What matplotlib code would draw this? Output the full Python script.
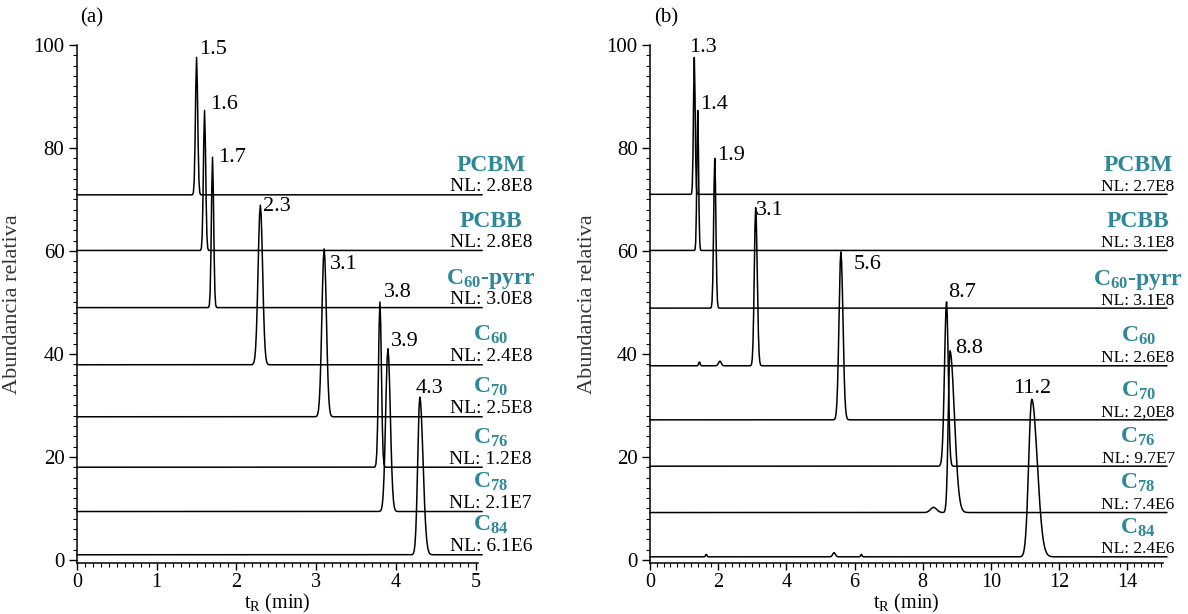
import numpy as np
import matplotlib
matplotlib.use("Agg")
import matplotlib.pyplot as plt
from matplotlib.ticker import MultipleLocator

plt.rcParams["font.family"] = ["Liberation Serif", "DejaVu Serif"]
plt.rcParams["mathtext.fontset"] = "custom"
plt.rcParams["mathtext.rm"] = "Liberation Serif"
plt.rcParams["mathtext.it"] = "Liberation Serif:italic"
plt.rcParams["mathtext.bf"] = "Liberation Serif:bold"

# ---------------------------------------------------------------- data
compound_labels = ["PCBM", "PCBB", r"C$_{\mathbf{60}}$-pyrr", r"C$_{\mathbf{60}}$",
                   r"C$_{\mathbf{70}}$", r"C$_{\mathbf{76}}$", r"C$_{\mathbf{78}}$",
                   r"C$_{\mathbf{84}}$"]

# panel (a)
baseline_a = [70.9, 60.1, 49.0, 37.9, 27.8, 18.0, 9.4, 1.0]
rt_a = [1.5, 1.6, 1.7, 2.3, 3.1, 3.8, 3.9, 4.3]
top_a = [97.6, 87.3, 78.2, 68.9, 60.4, 50.1, 41.0, 31.6]
sigma_left_a = [0.014, 0.014, 0.014, 0.028, 0.028, 0.018, 0.028, 0.026]
sigma_right_a = [0.014, 0.014, 0.014, 0.028, 0.028, 0.018, 0.030, 0.040]
nl_a = ["2.8E8", "2.8E8", "3.0E8", "2.4E8", "2.5E8", "1.2E8", "2.1E7", "6.1E6"]

# panel (b)
baseline_b = [71.0, 60.1, 48.9, 37.7, 27.2, 18.2, 9.2, 0.6]
rt_b = [1.3, 1.4, 1.9, 3.1, 5.6, 8.7, 8.8, 11.2]
top_b = [97.6, 87.3, 78.0, 68.4, 59.8, 50.1, 40.6, 31.2]
sigma_left_b = [0.025, 0.025, 0.032, 0.040, 0.055, 0.060, 0.050, 0.090]
sigma_right_b = [0.025, 0.025, 0.032, 0.045, 0.060, 0.050, 0.130, 0.160]
nl_b = ["2.7E8", "3.1E8", "3.1E8", "2.6E8", "2,0E8", "9.7E7", "7.4E6", "2.4E6"]
# small secondary features: (trace index, retention time, height, width)
minor_b = [(3, 1.45, 0.8, 0.02), (3, 2.05, 0.9, 0.04), (6, 8.32, 1.0, 0.09),
           (7, 1.65, 0.5, 0.02), (7, 5.40, 0.8, 0.04), (7, 6.20, 0.5, 0.02)]

# label offsets (points) for the retention-time annotations
offs_a = [(2, 6), (4, 4), (4, 0), (2, -1), (4, -11), (3, 7), (2, 5), (-3, 6)]
offs_b = [(-4, 7), (2, 4), (2, 2), (0, -2), (9, -9), (1, 7), (4, 2), (0, 8)]

TEAL = "#2e889a"


def trace(x, base, rt, top, sl, sr, extra=()):
    s = np.where(x < rt, sl, sr)
    y = base + (top - base) * np.exp(-0.5 * ((x - rt) / s) ** 2)
    for (r, h, w) in extra:
        y = y + h * np.exp(-0.5 * ((x - r) / w) ** 2)
    return y


def style_axes(ax, xmax, xmajor, xminor, letter):
    ax.set_xlim(0, xmax)
    ax.set_ylim(-0.6, 100)
    for side in ("top", "right"):
        ax.spines[side].set_visible(False)
    for side in ("left", "bottom"):
        ax.spines[side].set_linewidth(1.1)
    ax.yaxis.set_major_locator(MultipleLocator(20))
    ax.yaxis.set_minor_locator(MultipleLocator(2))
    ax.xaxis.set_major_locator(MultipleLocator(xmajor))
    ax.xaxis.set_minor_locator(MultipleLocator(xminor))
    ax.tick_params(which="major", direction="out", length=6, width=1.0,
                   labelsize=15, pad=3)
    ax.tick_params(axis="x", which="major", length=5, pad=2, labelsize=14.5)
    ax.tick_params(which="minor", direction="out", length=3, width=0.8)
    ax.set_ylabel("Abundancia relativa", fontsize=16, color="#333333")
    ax.set_xlabel(r"t$_{\mathrm{R}}$ (min)", fontsize=14.5)
    ax.text(0.008, 1.052, letter, transform=ax.transAxes, fontsize=15,
            ha="left", va="center")


def draw_panel(ax, x, bases, rts, tops, sls, srs, nls, offs, minor, label_x,
               nl_size, centered_last):
    for i in range(len(bases)):
        extra = [(r, h, w) for (k, r, h, w) in minor if k == i]
        y = trace(x, bases[i], rts[i], tops[i], sls[i], srs[i], extra)
        ax.plot(x, y, color="black", lw=1.1, clip_on=False, zorder=3)
        dx, dy = offs[i]
        ha = "center" if (centered_last and i == len(bases) - 1) else "left"
        ax.annotate(f"{rts[i]:.1f}", xy=(rts[i], tops[i]), xytext=(dx, dy),
                    textcoords="offset points", ha=ha, va="center",
                    fontsize=16, annotation_clip=False)
        ax.annotate(f"NL: {nls[i]}", xy=(label_x, bases[i]), xytext=(0, 2.5),
                    textcoords="offset points", ha="center", va="baseline",
                    fontsize=nl_size, annotation_clip=False, zorder=4)
        ax.annotate(compound_labels[i], xy=(label_x, bases[i]), xytext=(0, 17),
                    textcoords="offset points", ha="center", va="baseline",
                    fontsize=17, fontweight="bold", color=TEAL,
                    annotation_clip=False, zorder=4)


fig = plt.figure(figsize=(11.88, 6.14), dpi=100)
ax_a = fig.add_axes([77 / 1188, 1 - 563 / 614, 401 / 1188, 518 / 614])
ax_b = fig.add_axes([650 / 1188, 1 - 563 / 614, 513 / 1188, 518 / 614])

style_axes(ax_a, 5.03, 1, 0.1, "(a)")
style_axes(ax_b, 15.05, 2, 0.2, "(b)")

x_a = np.union1d(np.round(np.arange(0, 5.085, 0.01), 3), rt_a)
x_b = np.union1d(np.round(np.arange(0, 15.17, 0.02), 3), rt_b)

draw_panel(ax_a, x_a, baseline_a, rt_a, top_a, sigma_left_a, sigma_right_a,
           nl_a, offs_a, [], 5.19, 14, False)
draw_panel(ax_b, x_b, baseline_b, rt_b, top_b, sigma_left_b, sigma_right_b,
           nl_b, offs_b, minor_b, 14.32, 12.5, True)

for ax, lx in ((ax_a, (77 - 22) / 401), (ax_b, (650 - 597) / 513)):
    ax.yaxis.set_label_coords(-lx, 0.5)
    ax.xaxis.set_label_coords(0.5, -0.056)

fig.savefig("out.png", dpi=100)
